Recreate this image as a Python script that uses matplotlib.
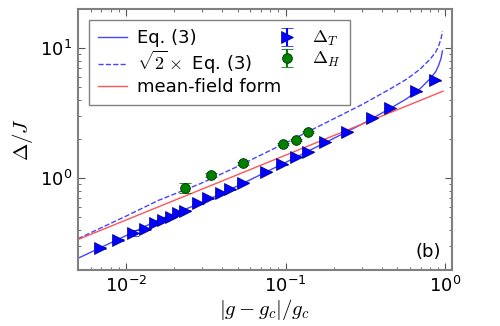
import numpy as np
import matplotlib
matplotlib.use("Agg")
import matplotlib.pyplot as plt

plt.rcParams['mathtext.fontset'] = 'cm'
plt.rcParams['font.family'] = ['DejaVu Sans']
plt.rcParams['axes.unicode_minus'] = False

# Delta_T data points
xT = [0.00684, 0.00891, 0.01107, 0.01309, 0.01528, 0.01706, 0.01905, 0.0212,
      0.0233, 0.0282, 0.0327, 0.0393, 0.0445, 0.0543, 0.0755, 0.0946, 0.1164,
      0.137, 0.177, 0.242, 0.347, 0.448, 0.655, 0.865]
yT = [0.288, 0.333, 0.376, 0.405, 0.448, 0.475, 0.504, 0.535,
      0.560, 0.639, 0.698, 0.771, 0.819, 0.920, 1.118, 1.281, 1.458,
      1.594, 1.90, 2.27, 2.91, 3.47, 4.67, 5.67]
eT = [0.005, 0.005, 0.02, 0.005, 0.005, 0.005, 0.005, 0.005,
      0.005, 0.005, 0.005, 0.005, 0.005, 0.005, 0.01, 0.01, 0.01,
      0.01, 0.01, 0.02, 0.02, 0.02, 0.03, 0.03]

# Delta_H data points
xH = [0.0233, 0.034, 0.0543, 0.0968, 0.1164, 0.137]
yH = [0.842, 1.054, 1.297, 1.816, 1.96, 2.27]
eH = [0.08, 0.04, 0.03, 0.03, 0.03, 0.03]

# Eq. (3) curve
xEq = [0.005, 0.01, 0.0159, 0.0291, 0.05, 0.1, 0.19, 0.3, 0.452, 0.575,
       0.697, 0.805, 0.87, 0.908, 0.94, 0.958]
yEq = [0.241, 0.36, 0.475, 0.639, 0.87, 1.32, 1.96, 2.6, 3.44, 4.10,
       4.90, 5.85, 6.6, 7.40, 8.4, 9.53]

# mean-field form (straight line in log-log)
xMF = [0.005, 0.967]
yMF = [0.336, 4.67]

fig = plt.figure(figsize=(5, 3.26), dpi=100)
ax = fig.add_axes([0.156, 0.172, 0.748, 0.80])

ax.plot(xEq, yEq, '-', color='#4444ff', lw=1.0, label='Eq. (3)')
ax.plot(xEq, np.sqrt(2) * np.array(yEq), '--', color='#4444ff', lw=1.0,
        label=r'$\sqrt{2}\times$ Eq. (3)')
ax.plot(xMF, yMF, '-', color='#ff5555', lw=1.0, label='mean-field form')

ax.errorbar(xT, yT, yerr=eT, fmt='>', color='b', mec='#000080', mew=0.5,
            ms=9, capsize=4, elinewidth=1.5, capthick=1.5,
            label=r'$\Delta_T$')
ax.errorbar(xH, yH, yerr=eH, fmt='o', color='green', mec='#003300', mew=0.6,
            ms=7, capsize=4, elinewidth=1.5, capthick=1.5,
            label=r'$\Delta_H$')

ax.set_xscale('log')
ax.set_yscale('log')
ax.set_xlim(0.005, 1.1)
ax.set_ylim(0.196, 20)

ax.tick_params(which='both', direction='in', top=True, right=True,
               labelsize=13, color='#555555')
ax.tick_params(which='major', length=5, pad=4)
ax.tick_params(which='minor', length=2.5)
for s in ax.spines.values():
    s.set_color('#808080')
    s.set_linewidth(1.5)

ax.set_xlabel(r'$|g-g_c|/g_c$', fontsize=15, labelpad=1)
ax.set_ylabel(r'$\Delta/J$', fontsize=15)

ax.text(0.97, 0.07, '(b)', transform=ax.transAxes, ha='right', va='center',
        fontsize=13)

leg = ax.legend(loc='upper left', ncol=2, fontsize=13, fancybox=False,
                framealpha=1, edgecolor='#808080', handlelength=1.6,
                borderaxespad=0.6, labelspacing=0.12, columnspacing=-0.45,
                handletextpad=0.55, borderpad=0.5)
leg.get_frame().set_linewidth(1.0)

fig.savefig('out.png', dpi=100)
